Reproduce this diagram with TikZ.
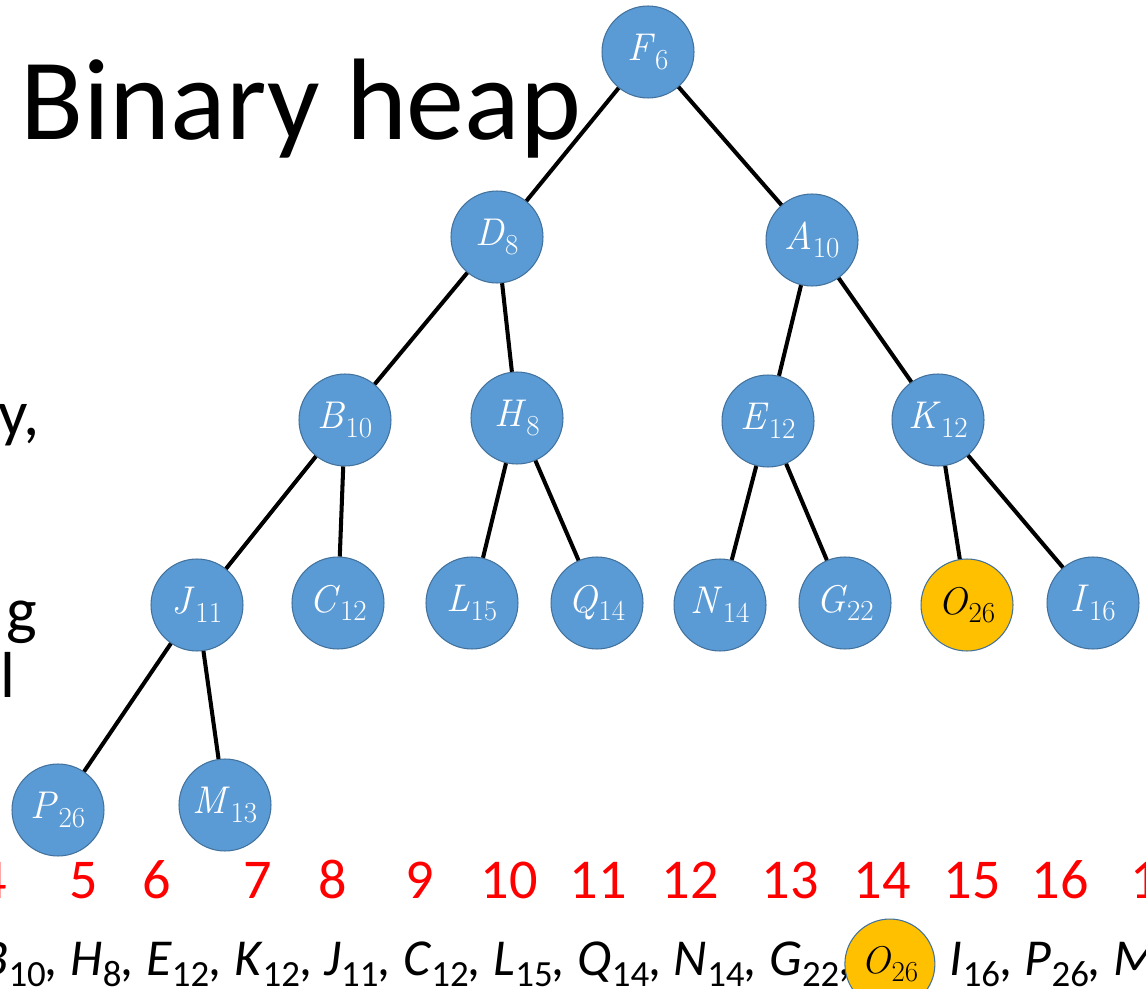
\documentclass[tikz,border=0pt]{standalone}
\usepackage{fontspec}
\setmainfont{Carlito}
\newfontfamily\lblfont{Latin Modern Roman}
\usetikzlibrary{positioning}
\definecolor{heapblue}{HTML}{5B9BD5}
\definecolor{heapline}{HTML}{41719C}
\definecolor{heapgold}{HTML}{FFC000}
\tikzset{
  heapnode/.style={circle,draw=heapline,line width=0.6pt,fill=heapblue,minimum size=1.84cm,inner sep=0pt,text=white,font=\lblfont\fontsize{22}{24}\selectfont},
  hotnode/.style={heapnode,fill=heapgold,text=black},
  hedge/.style={line width=2.3pt},
  idx/.style={text=red,anchor=base,inner sep=0pt,font=\fontsize{32}{34}\selectfont},
  arr/.style={anchor=base west,inner sep=0pt,font=\fontsize{29.5}{32}\selectfont},
  cut/.style={anchor=base west,inner sep=0pt,font=\fontsize{37}{40}\selectfont}
}
\newcommand{\hlab}[2]{\textit{#1}\raisebox{-0.22em}{\fontsize{16.5}{17}\selectfont #2}}
\newcommand{\hitem}[2]{\textit{#1}\raisebox{-0.22em}{\fontsize{21}{21}\selectfont #2}\textit{,}}
\newcommand{\hhidden}[2]{\phantom{\textit{#1}\raisebox{-0.22em}{\fontsize{21}{21}\selectfont #2}}\textit{,}}

\begin{document}
\begin{tikzpicture}[x=0.02cm,y=-0.02cm]
\useasboundingbox (0,0) rectangle (1146,989);
\clip (0,0) rectangle (1146,989);

\node[anchor=base west,inner sep=0pt,font=\fontsize{66}{72}\selectfont] (title) at (20,140) {Binary heap};
\node[cut] (frag1) at (-2,436) {y,};
\node[cut] (frag2) at (6,632) {g};
\node[cut] (frag3) at (0,697) {l};

% the tree
\node[heapnode] (F) at (648,52) {\hlab{F}{6}};
\node[heapnode] (D) at (497,237) {\hlab{D}{8}};
\node[heapnode] (A) at (812,240) {\hlab{A}{10}};
\node[heapnode] (B) at (345,420) {\hlab{B}{10}};
\node[heapnode] (H) at (517,418) {\hlab{H}{8}};
\node[heapnode] (E) at (768,421) {\hlab{E}{12}};
\node[heapnode] (K) at (938,420) {\hlab{K}{12}};
\node[heapnode] (J) at (197,605) {\hlab{J}{11}};
\node[heapnode] (C) at (338,603) {\hlab{C}{12}};
\node[heapnode] (L) at (472,603) {\hlab{L}{15}};
\node[heapnode] (Q) at (597,603) {\hlab{Q}{14}};
\node[heapnode] (N) at (720,605) {\hlab{N}{14}};
\node[heapnode] (G) at (845,603) {\hlab{G}{22}};
\node[hotnode] (O) at (967,605) {\hlab{O}{26}};
\node[heapnode] (I) at (1093,603) {\hlab{I}{16}};
\node[heapnode] (P) at (58,810) {\hlab{P}{26}};
\node[heapnode] (M) at (225,805) {\hlab{M}{13}};

\draw[hedge] (F)--(D);
\draw[hedge] (F)--(A);
\draw[hedge] (D)--(B);
\draw[hedge] (D)--(H);
\draw[hedge] (A)--(E);
\draw[hedge] (A)--(K);
\draw[hedge] (B)--(J);
\draw[hedge] (B)--(C);
\draw[hedge] (H)--(L);
\draw[hedge] (H)--(Q);
\draw[hedge] (E)--(N);
\draw[hedge] (E)--(G);
\draw[hedge] (K)--(O);
\draw[hedge] (K)--(I);
\draw[hedge] (J)--(P);
\draw[hedge] (J)--(M);

% array indices and contents
\foreach \x/\n in {-7/4,84/5,157/6,258/7,333/8,420/9,509/10,598/11,690/12,790/13,882/14,972/15,1060/16,1159/17}
  \node[idx] (i\n) at (\x,898) {\n};

\node[arr] (row1) at (-20,975) {\hitem{B}{10} \hitem{H}{8} \hitem{E}{12} \hitem{K}{12} \hitem{J}{11} \hitem{C}{12} \hitem{L}{15} \hitem{Q}{14} \hitem{N}{14} \hitem{G}{22} };
\node[arr,base right=0pt of row1] (row2) {\hhidden{O}{26}};
\node[arr,base right=0pt of row2] (row3) {\ \hitem{I}{16} \hitem{P}{26} \hitem{M}{13}};
\node[hotnode,minimum size=1.8cm] (O2) at ([xshift=-3]row2.center) {\hlab{O}{26}};
\end{tikzpicture}
\end{document}
